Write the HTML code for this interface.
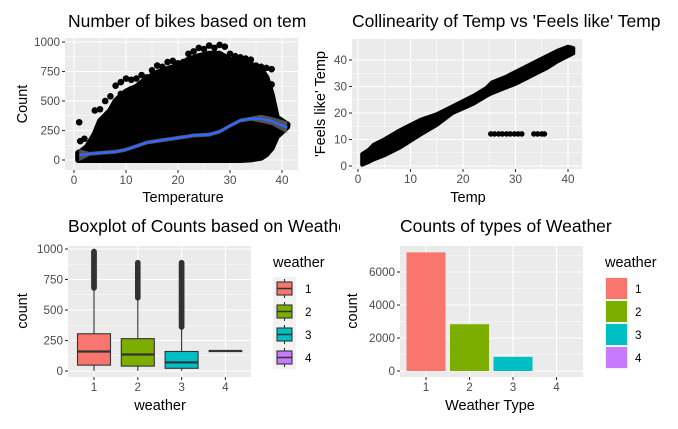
<!DOCTYPE html>
<html><head><meta charset="utf-8"><style>
html,body{margin:0;padding:0;background:#fff;}
svg{display:block;font-family:"Liberation Sans",sans-serif;}
</style></head><body>
<svg id="chart" width="678" height="429" viewBox="0 0 678 429">
<defs>
<clipPath id="clipL"><rect x="0" y="0" width="307" height="429"/></clipPath>
<clipPath id="clipL2"><rect x="0" y="0" width="340" height="429"/></clipPath>
</defs>
</svg>
<script>
// ---------- data ----------
const p1Temps = [0.8,1.5,2.5,4,5,7,8,10,12,14,16,18,20,22,24,26,28,30,32,34,36,37,38,39,41];
const p1Upper = [60,75,110,220,330,420,500,580,620,690,740,770,800,850,880,900,900,850,830,810,760,700,560,360,300];
const p1Lower = [0,0,0,0,0,0,0,0,0,0,0,0,0,0,0,0,0,0,0,5,20,50,100,200,280];
const p1Outliers = [[1,320],[1.2,160],[2,180],[4,420],[5,430],[6,500],[7,540],[8,630],[9,660],[10,690],[11,680],[12,690],[13,720],[15,760],[16,800],[18,830],[19,840],[20,820],[21,830],[22,900],[24,950],[26,970],[28,975],[29,960],[30,900],[31,880],[33,860],[35,800],[37,780],[38,770],[38,640],[41,300],[9,560],[11,600],[14,700],[17,790],[23,920],[25,940],[27,950],[32,870],[34,850],[36,790]];
const smoothT = [1,3,5,8,10,12,14,17,20,23,26,28,30,32,34,36,38,41];
const smoothC = [40,52,60,70,88,118,148,168,188,208,215,240,290,335,350,350,330,275];
// panel 2
const p2Temps = [0.8,2,3,5,8,10,12,15,18,22,24.5,25.5,28,30,32,34,36,38,40,41];
const p2Lo = [0.5,1.5,2.5,4,7,9.5,12,15.5,20,23.5,26.5,27.5,29.5,31,33,35,37,39.5,41.5,42.5];
const p2Hi = [4.5,6,8,10,13.5,15.5,17.5,19.5,22.5,26.5,29.5,31.5,33.5,35.5,37.5,39.5,41.5,43.5,45,44.5];
const p2FlatT = [25.3,26,26.8,27.5,28.3,29,29.8,30.5,31.2,33.5,34.2,35,35.5];
const p2FlatA = [12.1,12.1,12.1,12.1,12.1,12.1,12.1,12.1,12.1,12.1,12.1,12.1,12.1];
// panel 3
const wCats = ['1','2','3','4'];
const wColors = ['#F8766D','#7CAE00','#00BFC4','#C77CFF'];
const boxMin = [1,1,1,164];
const boxQ1 = [48,40,22,164];
const boxMed = [160,135,70,164];
const boxQ3 = [305,265,160,164];
const boxWhiskHi = [680,600,360,164];
const boxMaxOut = [980,890,890,164];
// panel 4
const weatherCounts = [7192,2834,859,1];
const p1YTicks = [0,250,500,750,1000];
const p1XTicks = [0,10,20,30,40];
const p2YTicks = [0,10,20,30,40];
const p4YTicks = [0,2000,4000,6000];

const svg=document.getElementById('chart');
const NS='http://www.w3.org/2000/svg';
function mk(tag,attrs,parent){const e=document.createElementNS(NS,tag);for(const k in attrs)e.setAttribute(k,attrs[k]);(parent||svg).appendChild(e);return e;}
function txt(s,attrs,parent){const e=mk('text',attrs,parent);e.textContent=s;return e;}

function panelBase(name,x0,x1,y0,y1,sx,sy,xMaj,xMin,yMaj,yMin){
  const g=mk('g',{});
  
  
  const bg=mk('rect',{x:x0,y:y0,width:x1-x0,height:y1-y0,fill:'#EBEBEB'},g);
  
  
  xMin.forEach(v=>mk('line',{x1:sx(v),x2:sx(v),y1:y0,y2:y1,stroke:'#fff','stroke-width':0.55},g));
  yMin.forEach(v=>mk('line',{x1:x0,x2:x1,y1:sy(v),y2:sy(v),stroke:'#fff','stroke-width':0.55},g));
  xMaj.forEach(v=>mk('line',{x1:sx(v),x2:sx(v),y1:y0,y2:y1,stroke:'#fff','stroke-width':1.1},g));
  yMaj.forEach(v=>mk('line',{x1:x0,x2:x1,y1:sy(v),y2:sy(v),stroke:'#fff','stroke-width':1.1},g));
  return g;
}
function axes(g,x0,y0,y1,sx,sy,xTicks,xLabels,yTicks,yLabels){
  yTicks.forEach((v,i)=>{
    mk('line',{x1:x0-3,x2:x0,y1:sy(v),y2:sy(v),stroke:'#333','stroke-width':1.1},g);
    const t=txt(yLabels[i],{x:x0-5,y:sy(v)+4,'text-anchor':'end','font-size':11.7,fill:'#4D4D4D'},g);
    
    
  });
  xTicks.forEach((v,i)=>{
    mk('line',{x1:sx(v),x2:sx(v),y1:y1,y2:y1+3,stroke:'#333','stroke-width':1.1},g);
    const t=txt(xLabels[i],{x:sx(v),y:y1+14,'text-anchor':'middle','font-size':11.7,fill:'#4D4D4D'},g);
    
    
  });
}
function title(s,x,y,clip,name){
  const t=txt(s,{x:x,y:y,'font-size':17.5,fill:'#000','clip-path':clip?'url(#'+clip+')':''});
  
  
}
function axTitle(s,x,y,rot,name){
  const t=txt(s,{x:x,y:y,'text-anchor':'middle','font-size':14.5,fill:'#000',transform:rot?'rotate(-90 '+x+' '+y+')':''});
  
  
}

// ---------- panel 1 ----------
(function(){
  const x0=65,x1=298,y0=38,y1=170;
  const sx=v=>74+v*5.2, sy=v=>160-v*0.118;
  const g=panelBase('temp-count-scatter',x0,x1,y0,y1,sx,sy,[0,10,20,30,40],[5,15,25,35],p1YTicks,[125,375,625,875]);
  let pts=p1Temps.map((t,i)=>sx(t)+','+sy(p1Upper[i]));
  for(let i=p1Temps.length-1;i>=0;i--)pts.push(sx(p1Temps[i])+','+sy(p1Lower[i]));
  const cloud=mk('polygon',{points:pts.join(' '),fill:'#000',stroke:'#000','stroke-width':6,'stroke-linejoin':'round'},g);
  
  
  p1Outliers.forEach(p=>{const c=mk('circle',{cx:sx(p[0]),cy:sy(p[1]),r:3.3,fill:'#000'},g);
    
    });
  let rib=smoothT.map((t,i)=>sx(t)+','+(sy(smoothC[i])-(i<1||i>16?6:(i>14?4:2))));
  for(let i=smoothT.length-1;i>=0;i--)rib.push(sx(smoothT[i])+','+(sy(smoothC[i])+(i<1||i>16?6:(i>14?4:2))));
  const r=mk('polygon',{points:rib.join(' '),fill:'#888','fill-opacity':0.6},g);
  
  
  const ln=mk('polyline',{points:smoothT.map((t,i)=>sx(t)+','+sy(smoothC[i])).join(' '),fill:'none',stroke:'#3366FF','stroke-width':2.4,'stroke-linejoin':'round'},g);
  
  
  axes(g,x0,y0,y1,sx,sy,p1XTicks,p1XTicks.map(String),p1YTicks,p1YTicks.map(String));
  title('Number of bikes based on temperature',68,27,'clipL','chart-title-temp-count');
  axTitle('Temperature',183,202,false,'x-axis-title');
  axTitle('Count',27,104,true,'y-axis-title');
})();

// ---------- panel 2 ----------
(function(){
  const x0=352,x1=582,y0=39,y1=169;
  const sx=v=>358+v*5.25, sy=v=>166-v*2.65;
  const g=panelBase('temp-atemp-scatter',x0,x1,y0,y1,sx,sy,[0,10,20,30,40],[5,15,25,35],p2YTicks,[5,15,25,35]);
  let pts=p2Temps.map((t,i)=>sx(t)+','+sy(p2Hi[i]));
  for(let i=p2Temps.length-1;i>=0;i--)pts.push(sx(p2Temps[i])+','+sy(p2Lo[i]));
  const band=mk('polygon',{points:pts.join(' '),fill:'#000',stroke:'#000','stroke-width':4,'stroke-linejoin':'round'},g);
  
  
  p2FlatT.forEach((t,i)=>{const c=mk('circle',{cx:sx(t),cy:sy(p2FlatA[i]),r:2.8,fill:'#000'},g);
    
    });
  axes(g,x0,y0,y1,sx,sy,p1XTicks,p1XTicks.map(String),p2YTicks,p2YTicks.map(String));
  title("Collinearity of Temp vs 'Feels like' Temp",352,27,null,'chart-title-collinearity');
  axTitle('Temp',468,202,false,'x-axis-title');
  axTitle("'Feels like' Temp",325,104,true,'y-axis-title');
})();

// ---------- panel 3 ----------
(function(){
  const x0=68,x1=251,y0=246,y1=377;
  const sx=i=>94+i*43.8, sy=v=>371-v*0.122;
  const g=panelBase('weather-boxplot',x0,x1,y0,y1,sx,sy,[0,1,2,3],[],p1YTicks,[125,375,625,875]);
  wCats.forEach((c,i)=>{
    const bx=mk('g',{},g);
    
    
    const cx=sx(i),w=16.5;
    mk('line',{x1:cx,x2:cx,y1:sy(boxMin[i]),y2:sy(boxQ1[i]),stroke:'#333','stroke-width':1.1},bx);
    mk('line',{x1:cx,x2:cx,y1:sy(boxQ3[i]),y2:sy(boxWhiskHi[i]),stroke:'#333','stroke-width':1.1},bx);
    if(boxMaxOut[i]>boxWhiskHi[i]){
      for(let v=boxWhiskHi[i];v<=boxMaxOut[i];v+=6)mk('circle',{cx:cx,cy:sy(v),r:2.8,fill:'#333'},bx);
    }
    mk('rect',{x:cx-w,y:sy(boxQ3[i]),width:2*w,height:Math.max(0.1,sy(boxQ1[i])-sy(boxQ3[i])),fill:wColors[i],stroke:'#333','stroke-width':1.1},bx);
    mk('line',{x1:cx-w,x2:cx+w,y1:sy(boxMed[i]),y2:sy(boxMed[i]),stroke:'#333','stroke-width':2.2},bx);
  });
  axes(g,x0,y0,y1,sx,sy,[0,1,2,3],wCats,p1YTicks,p1YTicks.map(String));
  title('Boxplot of Counts based on Weather',68,232,'clipL2','chart-title-boxplot');
  axTitle('weather',160,410,false,'x-axis-title');
  axTitle('count',27,311,true,'y-axis-title');
  const lg=mk('g',{});
  
  
  txt('weather',{x:273,y:267,'font-size':14.5,fill:'#000'},lg);
  wCats.forEach((c,i)=>{
    const e=mk('g',{},lg);
    
    
    const ky=277+i*23;
    mk('rect',{x:273,y:ky,width:23,height:23,fill:'#F2F2F2'},e);
    mk('line',{x1:284.5,x2:284.5,y1:ky+2,y2:ky+21,stroke:'#333','stroke-width':1.1},e);
    mk('rect',{x:277,y:ky+5,width:15,height:13,fill:wColors[i],stroke:'#333','stroke-width':1.1},e);
    mk('line',{x1:277,x2:292,y1:ky+11.5,y2:ky+11.5,stroke:'#333','stroke-width':1.5},e);
    txt(c,{x:305,y:ky+16,'font-size':11.7,fill:'#000'},e);
  });
})();

// ---------- panel 4 ----------
(function(){
  const x0=400,x1=583,y0=246,y1=377;
  const sx=i=>426+i*43.5, sy=v=>371-v*0.0165;
  const g=panelBase('weather-counts-bar',x0,x1,y0,y1,sx,sy,[0,1,2,3],[],p4YTicks,[1000,3000,5000,7000]);
  weatherCounts.forEach((v,i)=>{
    const b=mk('rect',{x:sx(i)-19.5,y:sy(v),width:39,height:sy(0)-sy(v),fill:wColors[i]},g);
    
    
  });
  axes(g,x0,y0,y1,sx,sy,[0,1,2,3],wCats,p4YTicks,p4YTicks.map(String));
  title('Counts of types of Weather',400,232,null,'chart-title-counts');
  axTitle('Weather Type',490,410,false,'x-axis-title');
  axTitle('count',357,311,true,'y-axis-title');
  const lg=mk('g',{});
  
  
  txt('weather',{x:605,y:267,'font-size':14.5,fill:'#000'},lg);
  wCats.forEach((c,i)=>{
    const e=mk('g',{},lg);
    
    
    const ky=277+i*23;
    mk('rect',{x:605,y:ky,width:23,height:23,fill:'#F2F2F2'},e);
    mk('rect',{x:606,y:ky+1,width:21,height:21,fill:wColors[i]},e);
    txt(c,{x:635,y:ky+16,'font-size':11.7,fill:'#000'},e);
  });
})();
</script>
</body></html>
